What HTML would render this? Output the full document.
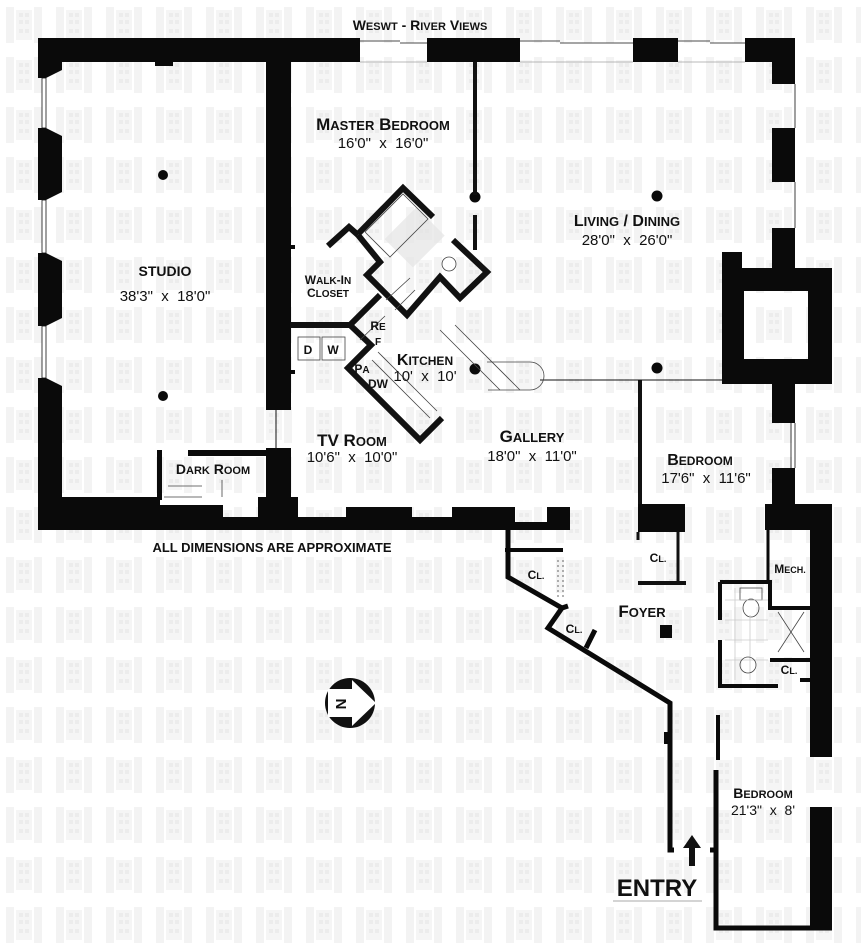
<!DOCTYPE html>
<html><head><meta charset="utf-8"><style>
html,body{margin:0;padding:0;background:#fff}
svg{display:block}
text{font-family:"Liberation Sans",sans-serif;fill:#111;white-space:pre}
.b{font-weight:bold}
</style></head><body>
<svg width="861" height="950" viewBox="0 0 861 950" xmlns="http://www.w3.org/2000/svg" xml:space="preserve">
<defs>
<pattern id="wm" x="0" y="0" width="50" height="50" patternUnits="userSpaceOnUse">
<rect x="6" y="7" width="8" height="36" fill="#f3f3f3"/>
<rect x="34" y="7" width="8" height="36" fill="#f3f3f3"/>
<rect x="16" y="10" width="16" height="30" fill="#f5f5f5"/>
<rect x="19" y="13" width="4" height="4" fill="#ececec"/><rect x="25" y="13" width="4" height="4" fill="#ececec"/>
<rect x="19" y="20" width="4" height="4" fill="#ececec"/><rect x="25" y="20" width="4" height="4" fill="#ececec"/>
<rect x="19" y="29" width="4" height="4" fill="#ececec"/><rect x="25" y="29" width="4" height="4" fill="#ececec"/>
</pattern>
</defs>
<rect width="861" height="950" fill="#fff"/>
<rect width="861" height="950" fill="url(#wm)"/>
<g fill="#0a0a0a">
<rect x="38" y="38" width="322" height="24"/>
<rect x="427" y="38" width="93" height="24"/>
<rect x="633" y="38" width="45" height="24"/>
<rect x="745" y="38" width="50" height="24"/>
<polygon points="38,38 62,38 62,70 46,78 38,78"/>
<polygon points="38,128 46,128 62,136 62,192 46,200 38,200"/>
<polygon points="38,253 46,253 62,261 62,318 46,326 38,326"/>
<polygon points="38,378 46,378 62,386 62,530 38,530"/>
<rect x="772" y="38" width="23" height="46"/>
<rect x="772" y="128" width="23" height="54"/>
<rect x="772" y="228" width="23" height="40"/>
<rect x="722" y="252" width="20" height="20"/>
<path d="M722,268 H832 V384 H722 Z M744,291 V359 H808 V291 Z" fill-rule="evenodd"/>
<rect x="772" y="384" width="23" height="39"/>
<rect x="772" y="468" width="23" height="36"/>
<rect x="765" y="504" width="67" height="26"/>
<rect x="810" y="504" width="22" height="253"/>
<rect x="810" y="807" width="22" height="121"/>
<rect x="638" y="504" width="47" height="28"/>
<rect x="38" y="497" width="122" height="33"/>
<rect x="160" y="505" width="63" height="25"/>
<rect x="223" y="517" width="35" height="13"/>
<rect x="258" y="497" width="40" height="33"/>
<rect x="298" y="517" width="48" height="13"/>
<rect x="346" y="507" width="66" height="23"/>
<rect x="412" y="517" width="40" height="13"/>
<rect x="452" y="507" width="60" height="23"/>
<rect x="512" y="522" width="35" height="8"/>
<rect x="547" y="507" width="23" height="23"/>
<rect x="505" y="507" width="10" height="23"/>
<rect x="266" y="62" width="25" height="348"/>
<rect x="266" y="448" width="25" height="55"/>
<rect x="291" y="245" width="4" height="4"/><rect x="291" y="370" width="4" height="4"/>
<rect x="155" y="62" width="18" height="4"/>
<rect x="157" y="450" width="5" height="50"/>
<rect x="188" y="450" width="78" height="6"/>
<circle cx="163" cy="175" r="5"/><circle cx="163" cy="396" r="5"/>
<circle cx="475" cy="197" r="5.5"/><circle cx="657" cy="196" r="5.5"/>
<circle cx="475" cy="369" r="5.5"/><circle cx="657" cy="368" r="5.5"/>
<rect x="660" y="625" width="12" height="13"/>
<rect x="664" y="732" width="8" height="12"/>
</g>
<rect x="395" y="215" width="40" height="45" fill="#e4e4e4" transform="rotate(45 415 237)" opacity="0.7"/>
<g stroke="#111" fill="none">
<rect x="42" y="78" width="4" height="50" stroke-width="0.8"/>
<rect x="42" y="200" width="4" height="53" stroke-width="0.8"/>
<rect x="42" y="326" width="4" height="52" stroke-width="0.8"/>
<path d="M360,41 H400 M400,43 H427 M520,41 H560 M560,43 H633 M678,41 H710 M710,43 H745" stroke-width="0.8"/>
<path d="M360,62 H427 M520,62 H633 M678,62 H745" stroke-width="0.6" stroke="#777"/>
<path d="M795,84 V128 M795,182 V228 M791,423 V468 M795,423 V468" stroke-width="0.8"/>
<line x1="276" y1="410" x2="276" y2="450" stroke-width="1"/>
<line x1="475" y1="62" x2="475" y2="195" stroke-width="4"/>
<line x1="475" y1="215" x2="475" y2="250" stroke-width="4"/>
<line x1="540" y1="380" x2="640" y2="380" stroke-width="1"/>
<line x1="640" y1="380" x2="722" y2="380" stroke-width="1"/>
<line x1="640" y1="380" x2="640" y2="504" stroke-width="4"/>
<line x1="678" y1="532" x2="678" y2="584" stroke-width="3"/>
<line x1="638" y1="532" x2="638" y2="540" stroke-width="3"/>
<line x1="638" y1="583" x2="686" y2="583" stroke-width="4"/>
<g stroke-width="6" stroke-linejoin="miter">
<polyline points="328,246 349,227 358,235"/>
<polyline points="358,234 403,188 433,217"/>
<polyline points="453,240 487,272 460,298 440,277 407,315 367,275 380,262 358,235"/>
<polyline points="290,325 350,325 380,295"/>
<polyline points="350,325 371,345 348,368 420,440 442,418"/>
</g>
<g stroke-width="0.8" stroke="#444">
<polyline points="365,232 403,194 428,219 390,257 365,232"/>
<polyline points="386,300 410,278"/><polyline points="395,310 415,290"/>
<polyline points="360,340 385,316"/>
<polyline points="440,330 500,390"/><polyline points="455,325 520,390"/>
<polyline points="372,360 430,418"/><polyline points="378,352 437,411"/>
<path d="M487,362 H530 A14,14 0 0 1 530,390 H488"/>
<rect x="298" y="337" width="22" height="23"/><rect x="322" y="337" width="23" height="23"/>
<path d="M168,486 H202 M164,497 H202 M222,480 V497"/>
<rect x="740" y="588" width="22" height="12"/>
<ellipse cx="751" cy="608" rx="8" ry="9"/>
<path d="M725,600 H768 M725,620 H768 M725,640 H768 M725,660 H768 M735,588 V680 M750,615 V680" stroke="#ccc"/>
<circle cx="748" cy="665" r="8"/>
<circle cx="449" cy="264" r="7"/>
<path d="M778,612 L804,652 M804,612 L778,652"/>
<path d="M558,560 V600 M563,560 V600" stroke-dasharray="2,3"/>
</g>
<g stroke-width="5" stroke="#0a0a0a">
<polyline points="508,530 508,577 562,608"/>
<line x1="505" y1="550" x2="563" y2="550" stroke-width="4"/>
<polyline points="568,606 562,608 548,628 670,703 670,850 674,850"/>
<line x1="595" y1="630" x2="586" y2="648"/>
<line x1="718" y1="715" x2="718" y2="760" stroke-width="4"/>
<polyline points="716,770 716,928 832,928"/>
<line x1="710" y1="850" x2="716" y2="850"/>
<polyline points="720,582 770,582 770,608 810,608" stroke-width="4"/>
<polyline points="720,582 720,620" stroke-width="4"/>
<polyline points="720,640 720,686 778,686" stroke-width="4"/>
<polyline points="770,660 810,660" stroke-width="4"/>
<line x1="800" y1="680" x2="810" y2="680" stroke-width="4"/>
<line x1="768" y1="530" x2="768" y2="582" stroke-width="3"/>
</g>
</g>
<path d="M692,835 L683,848 L689,848 L689,866 L695,866 L695,848 L701,848 Z" fill="#111"/>
<circle cx="350" cy="703" r="25" fill="#111"/>
<path d="M328,689 H352 L352,680 L376,703 L352,726 L352,717 H328 Z" fill="#fff"/>
<text x="340" y="710" font-size="15" class="b" transform="rotate(-90 340 704)" text-anchor="middle">N</text>
<g class="b" text-anchor="middle">
<text x="420" y="30" font-size="14">W<tspan font-size="11">ESWT</tspan> - R<tspan font-size="11">IVER</tspan> V<tspan font-size="11">IEWS</tspan></text>
<text x="383" y="130" font-size="17">M<tspan font-size="13">ASTER</tspan> B<tspan font-size="13">EDROOM</tspan></text>
<text x="627" y="226" font-size="16">L<tspan font-size="13">IVING</tspan> / D<tspan font-size="13">INING</tspan></text>
<text x="165" y="276" font-size="14">STUDIO</text>
<text x="328" y="284" font-size="12">W<tspan font-size="10">ALK</tspan>-I<tspan font-size="10">N</tspan></text>
<text x="328" y="297" font-size="12">C<tspan font-size="10">LOSET</tspan></text>
<text x="378" y="330" font-size="12">R<tspan font-size="10">E</tspan></text>
<text x="378" y="345" font-size="10">F</text>
<text x="362" y="373" font-size="12">P<tspan font-size="10">A</tspan></text>
<text x="378" y="388" font-size="12">DW</text>
<text x="308" y="354" font-size="12">D</text>
<text x="333" y="354" font-size="12">W</text>
<text x="425" y="365" font-size="16">K<tspan font-size="12">ITCHEN</tspan></text>
<text x="352" y="446" font-size="17">TV R<tspan font-size="13">OOM</tspan></text>
<text x="532" y="442" font-size="17">G<tspan font-size="13">ALLERY</tspan></text>
<text x="700" y="465" font-size="16">B<tspan font-size="12">EDROOM</tspan></text>
<text x="213" y="474" font-size="14">D<tspan font-size="11">ARK</tspan> R<tspan font-size="11">OOM</tspan></text>
<text x="272" y="552" font-size="13">ALL DIMENSIONS ARE APPROXIMATE</text>
<text x="536" y="579" font-size="12">C<tspan font-size="9">L.</tspan></text>
<text x="574" y="633" font-size="12">C<tspan font-size="9">L.</tspan></text>
<text x="658" y="562" font-size="12">C<tspan font-size="9">L.</tspan></text>
<text x="790" y="573" font-size="12">M<tspan font-size="9">ECH.</tspan></text>
<text x="789" y="674" font-size="12">C<tspan font-size="9">L.</tspan></text>
<text x="642" y="617" font-size="17">F<tspan font-size="13">OYER</tspan></text>
<text x="763" y="798" font-size="14">B<tspan font-size="11">EDROOM</tspan></text>
<text x="657" y="896" font-size="24">ENTRY</text>
</g>
<g text-anchor="middle" font-size="15">
<text x="383" y="148">16'0"&#160;&#160;x&#160;&#160;16'0"</text>
<text x="627" y="245">28'0"&#160;&#160;x&#160;&#160;26'0"</text>
<text x="165" y="301">38'3"&#160;&#160;x&#160;&#160;18'0"</text>
<text x="425" y="381">10'&#160;&#160;x&#160;&#160;10'</text>
<text x="352" y="462">10'6"&#160;&#160;x&#160;&#160;10'0"</text>
<text x="532" y="461">18'0"&#160;&#160;x&#160;&#160;11'0"</text>
<text x="706" y="483">17'6"&#160;&#160;x&#160;&#160;11'6"</text>
<text x="763" y="815" font-size="14">21'3"&#160;&#160;x&#160;&#160;8'</text>
</g>
<line x1="613" y1="901" x2="702" y2="901" stroke="#aaa" stroke-width="1"/>
</svg>
</body></html>
